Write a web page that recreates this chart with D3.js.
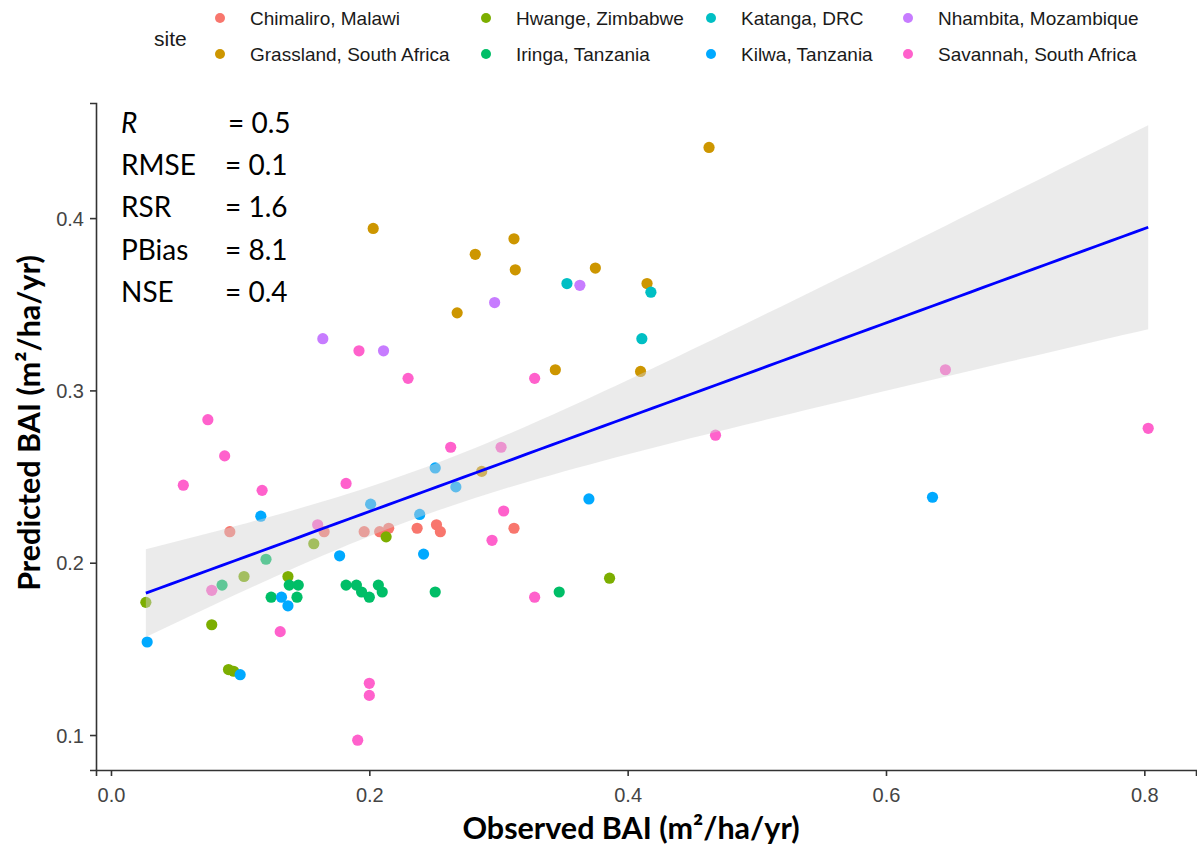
<!DOCTYPE html>
<html>
<head>
<meta charset="utf-8">
<script src="https://cdn.jsdelivr.net/npm/d3@7"></script>
<style>
  body { margin: 0; background: #fff; }
  svg { display: block; }
  .tick text { font-family: "Liberation Sans", Arial, sans-serif; font-size: 20px; fill: #444; }
  .legend-text { font-family: "Liberation Sans", Arial, sans-serif; font-size: 19px; fill: #1a1a1a; }
  .legend-title { font-family: "Liberation Sans", Arial, sans-serif; font-size: 21px; fill: #1a1a1a; }
  .stat { font-family: Lato, "Open Sans", sans-serif; font-size: 28px; fill: #000; }
  .axis-title { font-family: Lato, "Open Sans", sans-serif; font-size: 30.5px; font-weight: bold; fill: #000; }
</style>
</head>
<body>
<div id="chart"></div>
<script>
// sites and their ggplot hue colours
const sites = ["Chimaliro, Malawi", "Grassland, South Africa", "Hwange, Zimbabwe", "Iringa, Tanzania",
  "Katanga, DRC", "Kilwa, Tanzania", "Nhambita, Mozambique", "Savannah, South Africa"];
const siteColours = ["#F8766D", "#CD9600", "#7CAE00", "#00BE67", "#00BFC4", "#00A9FF", "#C77CFF", "#FF61CC"];

// observed / predicted BAI per site
const chimaliroObs = [0.092, 0.165, 0.196, 0.208, 0.215, 0.237, 0.252, 0.255, 0.312];
const chimaliroPred = [0.218, 0.218, 0.218, 0.218, 0.220, 0.220, 0.222, 0.218, 0.220];
const grasslandObs = [0.463, 0.203, 0.312, 0.282, 0.313, 0.375, 0.268, 0.344, 0.410, 0.287, 0.415];
const grasslandPred = [0.441, 0.394, 0.388, 0.379, 0.370, 0.371, 0.345, 0.312, 0.311, 0.253, 0.362];
const hwangeObs = [0.027, 0.078, 0.091, 0.095, 0.103, 0.157, 0.137, 0.213, 0.386];
const hwangePred = [0.177, 0.164, 0.138, 0.137, 0.192, 0.211, 0.192, 0.215, 0.191];
const iringaObs = [0.086, 0.120, 0.124, 0.138, 0.145, 0.144, 0.182, 0.190, 0.194, 0.200, 0.207, 0.210, 0.251, 0.347];
const iringaPred = [0.187, 0.202, 0.180, 0.187, 0.187, 0.180, 0.187, 0.187, 0.183, 0.180, 0.187, 0.183, 0.183, 0.183];
const katangaObs = [0.353, 0.418, 0.411];
const katangaPred = [0.362, 0.357, 0.330];
const kilwaObs = [0.028, 0.100, 0.116, 0.132, 0.137, 0.177, 0.201, 0.239, 0.242, 0.251, 0.267, 0.370, 0.636];
const kilwaPred = [0.154, 0.135, 0.227, 0.180, 0.175, 0.204, 0.234, 0.228, 0.205, 0.255, 0.244, 0.237, 0.238];
const nhambitaObs = [0.363, 0.297, 0.164, 0.211];
const nhambitaPred = [0.361, 0.351, 0.330, 0.323];
const savannahObs = [0.056, 0.075, 0.088, 0.117, 0.182, 0.192, 0.230, 0.263, 0.302, 0.304, 0.295, 0.328,
  0.328, 0.131, 0.200, 0.200, 0.191, 0.803, 0.646, 0.468, 0.078, 0.160];
const savannahPred = [0.245, 0.283, 0.262, 0.242, 0.246, 0.323, 0.307, 0.267, 0.267, 0.230, 0.213, 0.307,
  0.180, 0.160, 0.130, 0.123, 0.097, 0.278, 0.312, 0.274, 0.184, 0.222];

// goodness-of-fit labels printed in the corner
const statNames = ["R", "RMSE", "RSR", "PBias", "NSE"];
const statValues = ["0.5", "0.1", "1.6", "8.1", "0.4"];

const xTicks = [0.0, 0.2, 0.4, 0.6, 0.8];
const yTicks = [0.1, 0.2, 0.3, 0.4];

const obsBySite = [chimaliroObs, grasslandObs, hwangeObs, iringaObs, katangaObs, kilwaObs, nhambitaObs, savannahObs];
const predBySite = [chimaliroPred, grasslandPred, hwangePred, iringaPred, katangaPred, kilwaPred, nhambitaPred, savannahPred];

const width = 1197, height = 847;
const margin = { top: 103, right: 1, bottom: 77, left: 96 };

const points = [];
sites.forEach((s, i) => {
  obsBySite[i].forEach((o, j) => points.push({ site: s, obs: o, pred: predBySite[i][j] }));
});

const svg = d3.select("#chart").append("svg")
  .attr("width", width)
  .attr("height", height);

const x = d3.scaleLinear().domain([-0.0116, 0.840]).range([margin.left, width - margin.right]);
const y = d3.scaleLinear().domain([0.0797, 0.4668]).range([height - margin.bottom, margin.top]);
const colour = d3.scaleOrdinal().domain(sites).range(siteColours);

// points
svg.append("g")
  .selectAll("circle")
  .data(points)
  .join("circle")
  .attr("cx", d => x(d.obs))
  .attr("cy", d => y(d.pred))
  .attr("r", 5.6)
  .attr("fill", d => colour(d.site));

// linear fit with 95% band (like geom_smooth(method = "lm"))
const n = points.length;
const mx = d3.mean(points, d => d.obs);
const my = d3.mean(points, d => d.pred);
const sxx = d3.sum(points, d => (d.obs - mx) ** 2);
const sxy = d3.sum(points, d => (d.obs - mx) * (d.pred - my));
const slope = sxy / sxx;
const intercept = my - slope * mx;
const s = Math.sqrt(d3.sum(points, d => (d.pred - intercept - slope * d.obs) ** 2) / (n - 2));
const tCrit = 1.989;
const [xmin, xmax] = d3.extent(points, d => d.obs);
const fit = d3.range(80).map(k => {
  const xv = xmin + (xmax - xmin) * k / 79;
  const yv = intercept + slope * xv;
  const se = s * Math.sqrt(1 / n + (xv - mx) ** 2 / sxx);
  return { x: xv, y: yv, lo: yv - tCrit * se, hi: yv + tCrit * se };
});

svg.append("path")
  .datum(fit)
  .attr("fill", "#d3d3d3")
  .attr("fill-opacity", 0.45)
  .attr("d", d3.area().x(d => x(d.x)).y0(d => y(d.lo)).y1(d => y(d.hi)));

svg.append("path")
  .datum(fit)
  .attr("fill", "none")
  .attr("stroke", "#0000ff")
  .attr("stroke-width", 2.8)
  .attr("d", d3.line().x(d => x(d.x)).y(d => y(d.y)));

// axes
const xAxis = svg.append("g")
  .attr("transform", `translate(0,${height - margin.bottom})`)
  .call(d3.axisBottom(x).tickValues(xTicks).tickFormat(d3.format(".1f")).tickSize(6).tickPadding(8));
const yAxis = svg.append("g")
  .attr("transform", `translate(${margin.left},0)`)
  .call(d3.axisLeft(y).tickValues(yTicks).tickFormat(d3.format(".1f")).tickSize(6).tickPadding(6));
[xAxis, yAxis].forEach(a => {
  a.select(".domain").attr("stroke", "#333").attr("stroke-width", 1.6);
  a.selectAll(".tick line").attr("stroke", "#333").attr("stroke-width", 1.6);
});
xAxis.selectAll(".tick text").attr("dy", "0.9em");
yAxis.selectAll(".tick text").attr("dy", "0.35em");

svg.append("text")
  .attr("class", "axis-title")
  .attr("x", 631)
  .attr("y", 839)
  .attr("text-anchor", "middle")
  .text("Observed BAI (m²/ha/yr)");

svg.append("text")
  .attr("class", "axis-title")
  .attr("transform", "translate(40,423) rotate(-90)")
  .attr("text-anchor", "middle")
  .text("Predicted BAI (m²/ha/yr)");

// stats block
const stats = svg.append("g");
statNames.forEach((name, i) => {
  const by = 133 + i * 42.2;
  stats.append("text")
    .attr("class", "stat")
    .attr("x", 121)
    .attr("y", by)
    .style("font-style", i === 0 ? "italic" : "normal")
    .text(name);
  stats.append("text")
    .attr("class", "stat")
    .attr("x", i === 0 ? 228 : 225)
    .attr("y", by)
    .text("= " + statValues[i]);
});

// legend
const legend = svg.append("g");
legend.append("text")
  .attr("class", "legend-title")
  .attr("x", 154)
  .attr("y", 39)
  .attr("dy", "0.35em")
  .text("site");
const colDotX = [220, 486, 711, 908];
const rowY = [18, 54];
sites.forEach((sname, i) => {
  const col = Math.floor(i / 2), row = i % 2;
  legend.append("circle")
    .attr("cx", colDotX[col])
    .attr("cy", rowY[row])
    .attr("r", 5)
    .attr("fill", colour(sname));
  legend.append("text")
    .attr("class", "legend-text")
    .attr("x", colDotX[col] + 30)
    .attr("y", rowY[row])
    .attr("dy", "0.35em")
    .text(sname);
});
</script>
</body>
</html>
